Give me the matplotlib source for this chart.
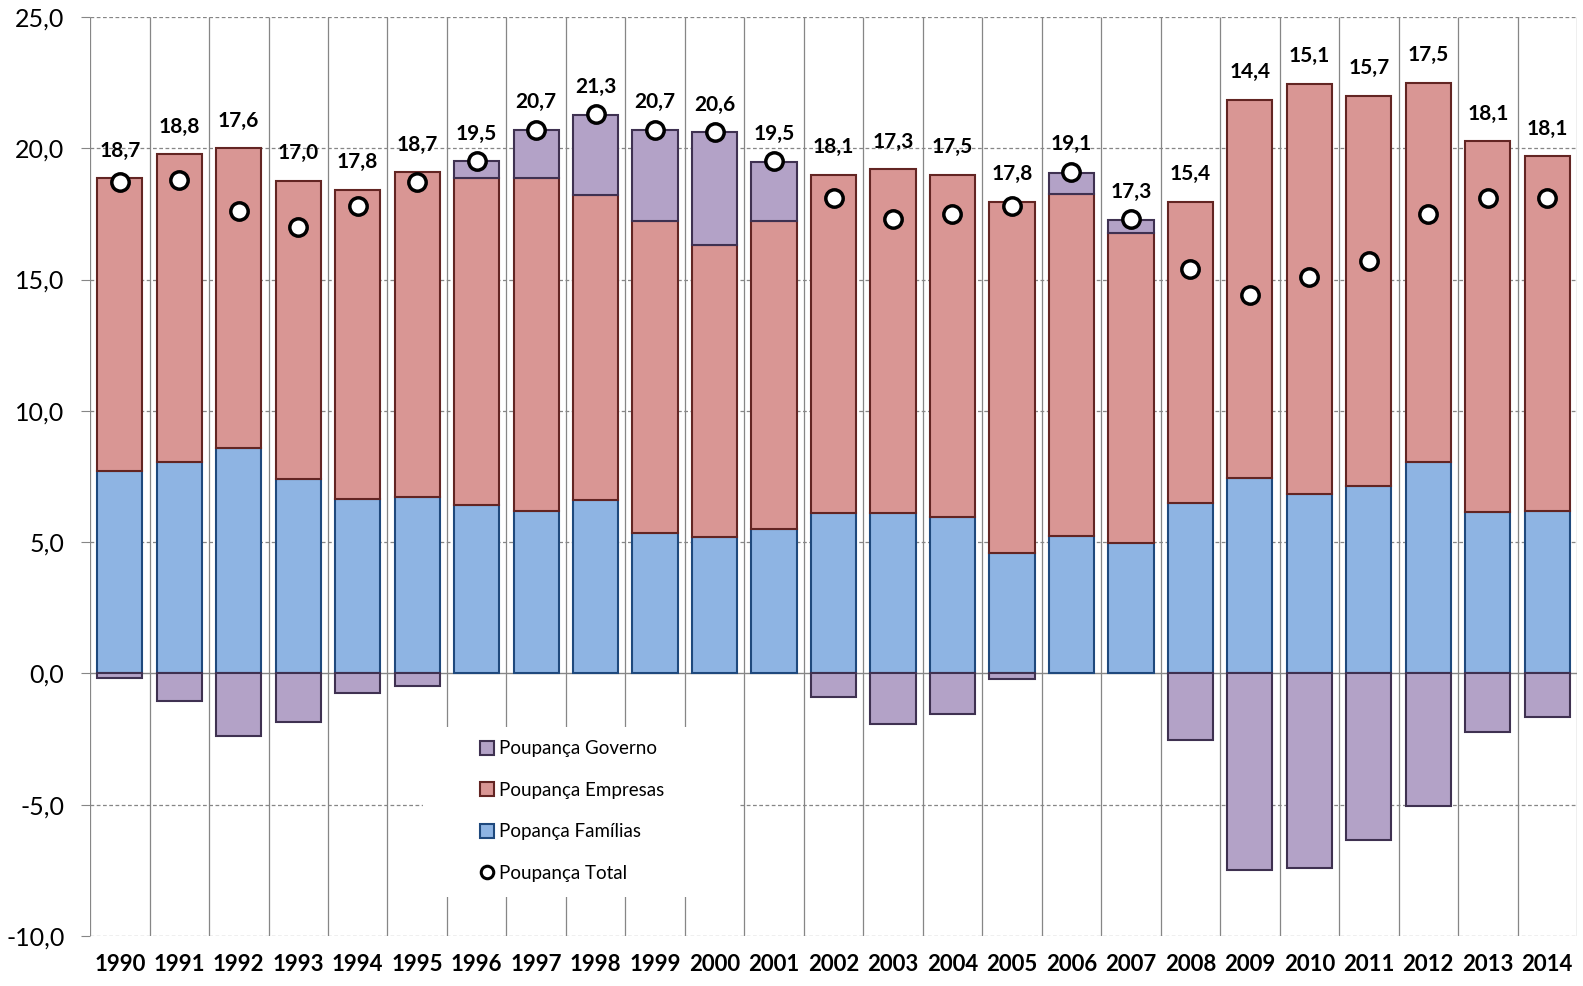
import numpy as np
import matplotlib.pyplot as plt
from matplotlib.patches import Patch, Rectangle
from matplotlib.lines import Line2D
from matplotlib.ticker import FuncFormatter

plt.rcParams['font.family'] = ['Lato', 'DejaVu Sans']

# dados (% do PIB)
anos = ['1990', '1991', '1992', '1993', '1994', '1995', '1996', '1997', '1998', '1999',
        '2000', '2001', '2002', '2003', '2004', '2005', '2006', '2007', '2008', '2009',
        '2010', '2011', '2012', '2013', '2014']
familias = [7.7, 8.04, 8.6, 7.4, 6.65, 6.73, 6.4, 6.2, 6.6, 5.35,
            5.2, 5.5, 6.1, 6.1, 5.95, 4.6, 5.25, 4.95, 6.5, 7.45,
            6.85, 7.15, 8.05, 6.15, 6.2]
empresas = [11.15, 11.73, 11.4, 11.37, 11.77, 12.35, 12.45, 12.65, 11.63, 11.88,
            11.1, 11.73, 12.9, 13.1, 13.05, 13.36, 13.02, 11.82, 11.46, 14.4,
            15.61, 14.85, 14.45, 14.12, 13.5]
governo = [-0.19, -1.04, -2.4, -1.85, -0.73, -0.46, 0.65, 1.85, 3.05, 3.47,
           4.3, 2.25, -0.88, -1.92, -1.54, -0.23, 0.8, 0.5, -2.54, -7.5,
           -7.42, -6.35, -5.04, -2.23, -1.65]
total = [18.7, 18.8, 17.6, 17.0, 17.8, 18.7, 19.5, 20.7, 21.3, 20.7,
         20.6, 19.5, 18.1, 17.3, 17.5, 17.8, 19.1, 17.3, 15.4, 14.4,
         15.1, 15.7, 17.5, 18.1, 18.1]

# cores (fundo, borda)
azul, azul_b = '#8EB4E3', '#1F497D'
verm, verm_b = '#D99694', '#632523'
roxo, roxo_b = '#B3A2C7', '#3F3151'
cinza = '#868686'

fam = np.array(familias)
emp = np.array(empresas)
gov = np.array(governo)
x = np.arange(len(anos))
w = 0.76

fig = plt.figure(figsize=(15.83, 9.86), dpi=100)
ax = fig.add_axes([0.0569, 0.0507, 0.9393, 0.9321])

# grade: linhas verticais entre categorias e horizontais tracejadas
ax.vlines(np.arange(-0.5, len(anos), 1), -10, 25, color=cinza, lw=0.9, zorder=0)
for v in range(-10, 30, 5):
    if v == 0:
        ax.axhline(v, color=cinza, lw=1.0, zorder=0)
    else:
        ax.axhline(v, color=cinza, lw=0.9, ls=(0, (3, 2)), zorder=0)

# fundo branco da legenda
ax.add_patch(Rectangle((0.224, 0.042), 0.212, 0.185, transform=ax.transAxes,
                       facecolor='white', edgecolor='none', zorder=1))

# barras empilhadas
ax.bar(x, fam, w, color=azul, edgecolor=azul_b, lw=1.5, zorder=2)
ax.bar(x, emp, w, bottom=fam, color=verm, edgecolor=verm_b, lw=1.5, zorder=2)
base_gov = np.where(gov >= 0, fam + emp, 0)
ax.bar(x, gov, w, bottom=base_gov, color=roxo, edgecolor=roxo_b, lw=1.5, zorder=2)

# poupança total
ax.plot(x, total, ls='none', marker='o', ms=12.5, mfc='white', mec='black', mew=2.5, zorder=4)

for i, t in enumerate(total):
    topo = max(fam[i] + emp[i] + max(gov[i], 0), t)
    ax.text(i, topo + 1.05, f'{t:.1f}'.replace('.', ','), ha='center', va='center',
            fontsize=15, fontweight='bold', zorder=5)

ax.set_xlim(-0.5, len(anos) - 0.5)
ax.set_ylim(-10, 25)
ax.set_yticks(range(-10, 30, 5))
ax.yaxis.set_major_formatter(FuncFormatter(lambda v, p: f'{v:.1f}'.replace('.', ',')))
ax.set_xticks(x)
ax.set_xticklabels(anos, fontsize=16, fontweight='bold')
ax.tick_params(axis='x', length=0, pad=13)
ax.tick_params(axis='y', length=6.5, color=cinza, labelsize=18, pad=12)
for s in ax.spines.values():
    s.set_visible(False)

handles = [Patch(facecolor=roxo, edgecolor=roxo_b, lw=1.5),
           Patch(facecolor=verm, edgecolor=verm_b, lw=1.5),
           Patch(facecolor=azul, edgecolor=azul_b, lw=1.5),
           Line2D([], [], ls='none', marker='o', ms=9, mfc='white', mec='black', mew=2.2)]
labels = ['Poupança Governo', 'Poupança Empresas', 'Popança Famílias', 'Poupança Total']
ax.legend(handles, labels, loc='center left', bbox_to_anchor=(0.262, 0.136),
          frameon=False, fontsize=13.5, labelspacing=1.3, handlelength=0.75,
          handleheight=0.75, handletextpad=0.3, borderpad=0, borderaxespad=0)

fig.savefig('out.png', dpi=100)
